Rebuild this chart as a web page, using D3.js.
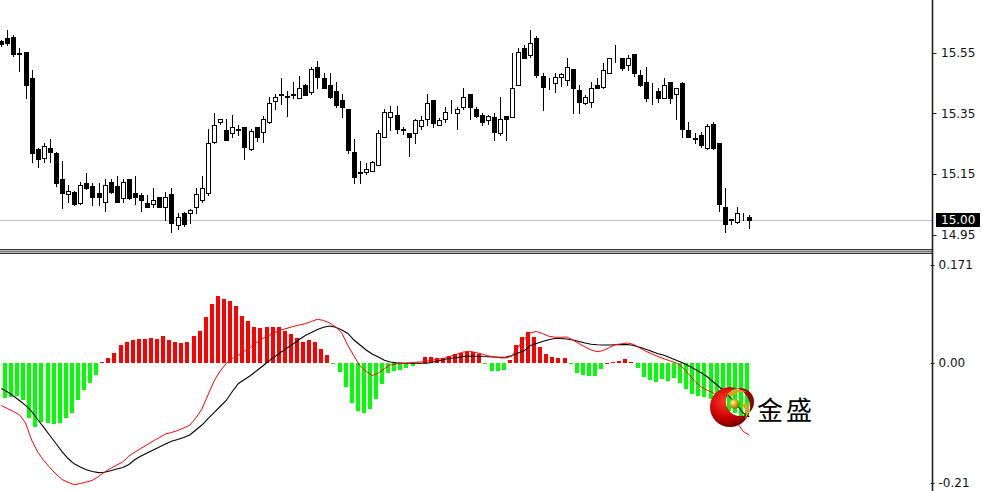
<!DOCTYPE html>
<html><head><meta charset="utf-8">
<script src="https://cdn.jsdelivr.net/npm/d3@7"></script>
<style>html,body{margin:0;padding:0;background:#fff;overflow:hidden}</style>
</head><body>
<svg id="chart" width="989" height="491"></svg>
<script>
// ---- price candles (open, high, low, close) ----
const openP = [15.588,15.598,15.602,15.548,15.553,15.465,15.231,15.202,15.235,15.218,15.132,15.083,15.090,15.053,15.121,15.111,15.086,15.059,15.123,15.111,
15.070,15.132,15.086,15.081,15.053,15.051,15.073,15.042,15.084,14.982,15.022,15.022,15.040,15.064,15.086,15.256,15.322,15.295,15.284,15.300,
15.304,15.231,15.304,15.289,15.322,15.391,15.414,15.405,15.410,15.400,15.443,15.421,15.503,15.465,15.443,15.423,15.394,15.363,15.223,15.155,
15.155,15.161,15.180,15.273,15.339,15.344,15.300,15.284,15.284,15.308,15.330,15.394,15.311,15.330,15.363,15.352,15.370,15.413,15.363,15.344,
15.328,15.339,15.284,15.341,15.339,15.443,15.564,15.542,15.597,15.473,15.432,15.449,15.470,15.460,15.495,15.427,15.383,15.388,15.443,15.438,
15.482,15.525,15.534,15.509,15.545,15.476,15.454,15.420,15.424,15.399,15.454,15.413,15.451,15.295,15.268,15.278,15.235,15.315,15.253,15.042,
15.000,14.993,15.009,15.008];
const highP = [15.591,15.624,15.608,15.564,15.553,15.493,15.235,15.253,15.264,15.223,15.194,15.114,15.093,15.123,15.154,15.119,15.121,15.132,15.132,15.143,
15.132,15.133,15.143,15.086,15.081,15.103,15.075,15.092,15.103,15.022,15.025,15.033,15.103,15.143,15.300,15.352,15.330,15.333,15.344,15.313,
15.304,15.300,15.305,15.340,15.403,15.413,15.465,15.423,15.454,15.473,15.446,15.503,15.523,15.482,15.484,15.454,15.413,15.363,15.264,15.194,
15.185,15.194,15.295,15.363,15.374,15.374,15.304,15.284,15.333,15.342,15.413,15.394,15.335,15.370,15.394,15.370,15.432,15.413,15.372,15.352,
15.345,15.350,15.405,15.341,15.548,15.564,15.575,15.624,15.605,15.482,15.465,15.482,15.484,15.534,15.495,15.443,15.410,15.454,15.465,15.515,
15.534,15.575,15.534,15.542,15.545,15.493,15.503,15.449,15.432,15.465,15.454,15.432,15.454,15.322,15.284,15.289,15.315,15.322,15.253,15.103,
15.002,15.042,15.020,15.015];
const lowP = [15.572,15.575,15.540,15.490,15.400,15.190,15.172,15.190,15.190,15.110,15.039,15.059,15.047,15.050,15.100,15.048,15.048,15.029,15.088,15.058,
15.058,15.068,15.050,15.029,15.042,15.042,15.040,15.000,14.960,14.968,14.980,14.990,15.020,15.058,15.081,15.251,15.315,15.262,15.273,15.280,
15.198,15.228,15.260,15.256,15.319,15.363,15.380,15.341,15.400,15.399,15.410,15.413,15.432,15.432,15.399,15.370,15.339,15.220,15.119,15.119,
15.150,15.160,15.180,15.273,15.295,15.284,15.282,15.209,15.251,15.300,15.311,15.304,15.311,15.322,15.352,15.300,15.366,15.330,15.338,15.311,
15.315,15.262,15.278,15.262,15.339,15.443,15.531,15.536,15.470,15.361,15.430,15.421,15.440,15.443,15.350,15.350,15.380,15.370,15.432,15.432,
15.482,15.520,15.493,15.493,15.473,15.440,15.391,15.380,15.388,15.399,15.383,15.330,15.271,15.271,15.251,15.240,15.231,15.231,15.029,14.960,
14.985,14.987,14.998,14.971];
const closeP = [15.578,15.582,15.547,15.546,15.443,15.218,15.198,15.242,15.223,15.119,15.088,15.094,15.050,15.114,15.103,15.075,15.075,15.114,15.090,15.059,
15.125,15.070,15.075,15.064,15.042,15.064,15.042,15.075,14.990,15.009,14.985,15.031,15.084,15.103,15.251,15.311,15.330,15.262,15.304,15.296,
15.240,15.293,15.273,15.333,15.385,15.405,15.410,15.407,15.415,15.432,15.410,15.495,15.470,15.432,15.405,15.377,15.370,15.229,15.141,15.153,
15.165,15.190,15.284,15.355,15.355,15.300,15.296,15.273,15.328,15.328,15.383,15.319,15.328,15.355,15.365,15.366,15.405,15.370,15.341,15.322,
15.341,15.289,15.333,15.330,15.432,15.553,15.531,15.583,15.476,15.438,15.433,15.470,15.480,15.503,15.432,15.388,15.405,15.432,15.432,15.493,
15.534,15.526,15.498,15.534,15.482,15.443,15.399,15.422,15.399,15.443,15.399,15.432,15.300,15.271,15.266,15.245,15.308,15.235,15.051,14.985,
15.001,15.022,15.008,15.000];
const lastPrice = 15.00;
const priceTicks = [15.55, 15.35, 15.15, 14.95];

// ---- MACD panel ----
const histValues = [-0.0617,-0.0600,-0.0576,-0.0646,-0.0966,-0.1122,-0.1024,-0.1053,-0.1065,-0.1053,-0.0966,-0.0878,-0.0646,-0.0471,-0.0344,-0.0209,0.0020,0.0082,0.0169,0.0314,
0.0372,0.0401,0.0419,0.0419,0.0442,0.0419,0.0471,0.0401,0.0372,0.0355,0.0372,0.0471,0.0558,0.0808,0.1030,0.1170,0.1110,0.1088,0.0995,0.0820,
0.0739,0.0634,0.0605,0.0634,0.0634,0.0634,0.0558,0.0500,0.0442,0.0372,0.0401,0.0372,0.0239,0.0134,-0.0020,-0.0151,-0.0413,-0.0704,-0.0832,-0.0867,
-0.0809,-0.0634,-0.0367,-0.0180,-0.0134,-0.0122,-0.0095,-0.0045,-0.0015,0.0110,0.0110,0.0081,0.0081,0.0122,0.0157,0.0180,0.0198,0.0198,0.0157,-0.0020,
-0.0134,-0.0134,-0.0122,0.0052,0.0314,0.0448,0.0547,0.0448,0.0285,0.0157,0.0099,0.0081,0.0081,-0.0017,-0.0180,-0.0210,-0.0227,-0.0227,-0.0110,0.0006,
0.0023,0.0040,0.0064,0.0010,-0.0093,-0.0239,-0.0300,-0.0335,-0.0285,-0.0317,-0.0254,-0.0355,-0.0450,-0.0540,-0.0580,-0.0600,-0.0630,-0.0680,-0.0750,-0.0830,
-0.0880,-0.0920,-0.0937];
const difValues = [-0.0742,-0.0794,-0.0846,-0.0904,-0.1047,-0.1344,-0.1553,-0.1702,-0.1824,-0.1937,-0.2033,-0.2082,-0.2124,-0.2103,-0.2077,-0.2047,-0.1981,-0.1902,-0.1838,-0.1780,
-0.1728,-0.1623,-0.1553,-0.1489,-0.1426,-0.1361,-0.1300,-0.1239,-0.1213,-0.1178,-0.1134,-0.1086,-0.0960,-0.0803,-0.0558,-0.0314,-0.0140,-0.0009,0.0079,0.0131,
0.0209,0.0279,0.0358,0.0428,0.0480,0.0532,0.0576,0.0606,0.0637,0.0663,0.0686,0.0724,0.0764,0.0742,0.0698,0.0628,0.0524,0.0305,0.0122,-0.0052,
-0.0148,-0.0218,-0.0175,-0.0096,-0.0035,-0.0017,-0.0007,0.0000,0.0010,0.0019,0.0031,0.0052,0.0070,0.0087,0.0122,0.0157,0.0192,0.0204,0.0183,0.0157,
0.0126,0.0105,0.0091,0.0087,0.0122,0.0279,0.0419,0.0524,0.0550,0.0515,0.0468,0.0450,0.0449,0.0454,0.0401,0.0340,0.0279,0.0227,0.0197,0.0218,
0.0271,0.0319,0.0335,0.0349,0.0323,0.0262,0.0204,0.0157,0.0113,0.0073,0.0035,0.0000,-0.0070,-0.0192,-0.0314,-0.0410,-0.0471,-0.0515,-0.0611,-0.0750,
-0.0890,-0.1038,-0.1195,-0.1257];
const deaValues = [-0.0445,-0.0503,-0.0576,-0.0654,-0.0738,-0.0846,-0.0986,-0.1122,-0.1265,-0.1405,-0.1545,-0.1667,-0.1759,-0.1815,-0.1864,-0.1894,-0.1913,-0.1906,-0.1880,-0.1850,
-0.1824,-0.1771,-0.1684,-0.1623,-0.1571,-0.1518,-0.1466,-0.1414,-0.1366,-0.1335,-0.1300,-0.1257,-0.1169,-0.1082,-0.0969,-0.0864,-0.0759,-0.0654,-0.0497,-0.0358,
-0.0288,-0.0218,-0.0136,-0.0052,0.0035,0.0113,0.0187,0.0262,0.0332,0.0410,0.0480,0.0532,0.0585,0.0623,0.0646,0.0625,0.0576,0.0515,0.0401,0.0314,
0.0227,0.0157,0.0105,0.0047,0.0017,0.0003,-0.0003,-0.0005,-0.0005,-0.0005,-0.0003,0.0017,0.0040,0.0065,0.0082,0.0096,0.0113,0.0122,0.0119,0.0113,
0.0110,0.0105,0.0099,0.0105,0.0131,0.0175,0.0213,0.0305,0.0340,0.0375,0.0405,0.0428,0.0428,0.0419,0.0401,0.0375,0.0349,0.0326,0.0318,0.0314,
0.0314,0.0318,0.0321,0.0323,0.0305,0.0274,0.0241,0.0201,0.0162,0.0134,0.0091,0.0049,0.0003,-0.0049,-0.0105,-0.0166,-0.0232,-0.0323,-0.0410,-0.0506,
-0.0611,-0.0733,-0.0873,-0.0942];
const macdTicks = [0.171, 0.00, -0.21];
const macdTickLabels = ["0.171", "0.00", "-0.21"];
const brandText = "金盛";

// ---- drawing ----
const svg = d3.select('#chart');
const axisX = 932.5;
const n = openP.length;
const x = d3.scaleLinear().domain([0, n - 1]).range([1.2, 749.3]);
const yP = d3.scaleLinear().domain([15.0, 15.55]).range([219.5, 52.7]);
const yM = d3.scaleLinear().domain([0, 0.171]).range([363, 265]);

const defs = svg.append('defs');
defs.append('clipPath').attr('id', 'clipTop').append('rect').attr('x', 0).attr('y', 0).attr('width', axisX).attr('height', 249);
defs.append('clipPath').attr('id', 'clipBot').append('rect').attr('x', 0).attr('y', 255).attr('width', axisX).attr('height', 236);

svg.append('rect').attr('width', 989).attr('height', 491).attr('fill', '#fff');

// current price line
svg.append('line').attr('x1', 0).attr('x2', axisX).attr('y1', Math.round(yP(lastPrice)) + 0.5).attr('y2', Math.round(yP(lastPrice)) + 0.5)
  .attr('stroke', '#c0c0c0').attr('stroke-width', 1);

// candles
const idx = d3.range(n);
const gC = svg.append('g').attr('clip-path', 'url(#clipTop)').attr('shape-rendering', 'crispEdges');
const cx = i => Math.round(x(i));
gC.selectAll('line.wick').data(idx).join('line').attr('class', 'wick')
  .attr('x1', i => cx(i) + 0.5).attr('x2', i => cx(i) + 0.5)
  .attr('y1', i => Math.round(yP(highP[i]))).attr('y2', i => Math.round(yP(lowP[i])) + 1)
  .attr('stroke', '#000').attr('stroke-width', 1);
gC.selectAll('rect.body').data(idx).join('rect').attr('class', 'body')
  .attr('x', i => cx(i) - 1.5).attr('width', 4)
  .attr('y', i => Math.round(yP(Math.max(openP[i], closeP[i]))) + 0.5)
  .attr('height', i => Math.max(0, Math.round(yP(Math.min(openP[i], closeP[i]))) - Math.round(yP(Math.max(openP[i], closeP[i])))))
  .attr('fill', i => closeP[i] >= openP[i] ? '#fff' : '#000')
  .attr('stroke', '#000').attr('stroke-width', 1);

// histogram
const gH = svg.append('g').attr('clip-path', 'url(#clipBot)').attr('shape-rendering', 'crispEdges');
const y0 = Math.round(yM(0));
gH.selectAll('rect').data(histValues).join('rect')
  .attr('x', (d, i) => Math.round(x(i) + 3.8) - 2).attr('width', 4)
  .attr('y', d => d >= 0 ? Math.round(yM(d)) : y0)
  .attr('height', d => Math.max(1, Math.abs(Math.round(yM(d)) - y0)))
  .attr('fill', d => d >= 0 ? '#ff0000' : '#00ff00');

// lines
const line = d3.line().x((d, i) => x(i)).y(d => yM(d));
const gL = svg.append('g').attr('clip-path', 'url(#clipBot)');
gL.append('path').datum(deaValues).attr('d', line).attr('fill', 'none').attr('stroke', '#000').attr('stroke-width', 1.1);
gL.append('path').datum(difValues).attr('d', line).attr('fill', 'none').attr('stroke', '#ff0000').attr('stroke-width', 1);

// panel separator
svg.append('rect').attr('x', 0).attr('y', 249).attr('width', axisX).attr('height', 5).attr('fill', '#bdbdbd');
svg.append('line').attr('x1', 0).attr('x2', axisX).attr('y1', 249.5).attr('y2', 249.5).attr('stroke', '#333');
svg.append('line').attr('x1', 0).attr('x2', axisX).attr('y1', 251.5).attr('y2', 251.5).attr('stroke', '#777');
svg.append('line').attr('x1', 0).attr('x2', axisX).attr('y1', 253.5).attr('y2', 253.5).attr('stroke', '#333');

// right axis line
svg.append('line').attr('x1', axisX).attr('x2', axisX).attr('y1', 0).attr('y2', 491).attr('stroke', '#222').attr('stroke-width', 1.6);

// price axis ticks & labels
const fontF = '"DejaVu Sans", Tahoma, sans-serif';
const gPA = svg.append('g');
gPA.selectAll('line').data(priceTicks).join('line')
  .attr('x1', axisX).attr('x2', axisX + 4).attr('y1', d => Math.round(yP(d)) + 0.5).attr('y2', d => Math.round(yP(d)) + 0.5)
  .attr('stroke', '#222');
gPA.selectAll('text').data(priceTicks).join('text')
  .attr('x', 941).attr('y', d => yP(d)).attr('dy', '0.36em')
  .attr('font-family', fontF).attr('font-size', 12).attr('fill', '#111')
  .text(d => d.toFixed(2));
// last price box
svg.append('rect').attr('x', 936).attr('y', Math.round(yP(lastPrice)) - 7).attr('width', 44).attr('height', 14).attr('fill', '#000');
svg.append('text').attr('x', 941).attr('y', yP(lastPrice)).attr('dy', '0.36em')
  .attr('font-family', fontF).attr('font-size', 12).attr('fill', '#fff').text(lastPrice.toFixed(2));

// macd axis
const gMA = svg.append('g');
gMA.selectAll('line').data(macdTicks).join('line')
  .attr('x1', axisX - 2).attr('x2', axisX + 2).attr('y1', d => Math.round(yM(d)) + 0.5).attr('y2', d => Math.round(yM(d)) + 0.5)
  .attr('stroke', '#222');
gMA.selectAll('text').data(macdTicks).join('text')
  .attr('x', 938.5).attr('y', d => Math.min(yM(d), 483)).attr('dy', '0.36em')
  .attr('font-family', fontF).attr('font-size', 12).attr('fill', '#111')
  .text((d, i) => macdTickLabels[i]);

// logo
const lg = svg.append('g');
const rg = defs.append('radialGradient').attr('id', 'redG').attr('cx', '35%').attr('cy', '35%').attr('r', '70%');
rg.append('stop').attr('offset', '0%').attr('stop-color', '#ff3a2a');
rg.append('stop').attr('offset', '60%').attr('stop-color', '#c80000');
rg.append('stop').attr('offset', '100%').attr('stop-color', '#6a0000');
const gg = defs.append('radialGradient').attr('id', 'goldG').attr('cx', '35%').attr('cy', '35%').attr('r', '70%');
gg.append('stop').attr('offset', '0%').attr('stop-color', '#fff2a0');
gg.append('stop').attr('offset', '55%').attr('stop-color', '#d4a020');
gg.append('stop').attr('offset', '100%').attr('stop-color', '#8a6010');
const ocx = 730, ocy = 407, orad = 20, icx = 740, icy = 402, irad = 14;
lg.append('path')
  .attr('d', `M${ocx - orad},${ocy} a${orad},${orad} 0 1,0 ${2 * orad},0 a${orad},${orad} 0 1,0 ${-2 * orad},0 Z M${icx - irad},${icy} a${irad},${irad} 0 1,1 ${2 * irad},0 a${irad},${irad} 0 1,1 ${-2 * irad},0 Z`)
  .attr('fill', 'url(#redG)').attr('fill-rule', 'evenodd');
lg.append('path').attr('d', 'M727,394 Q736,386 747,392 Q737,391 731,397 Z').attr('fill', '#d6a41e');
lg.append('path').attr('d', 'M746,402 Q752,411 745,419 Q748,411 742,405 Z').attr('fill', '#d6a41e');
lg.append('circle').attr('cx', 734.5).attr('cy', 404).attr('r', 5).attr('fill', 'url(#goldG)');
svg.append('text').attr('x', 757).attr('y', 420)
  .attr('font-family', '"Noto Sans CJK SC", sans-serif').attr('font-size', 26).attr('letter-spacing', 3)
  .attr('fill', '#000').text(brandText);
</script>
</body></html>
